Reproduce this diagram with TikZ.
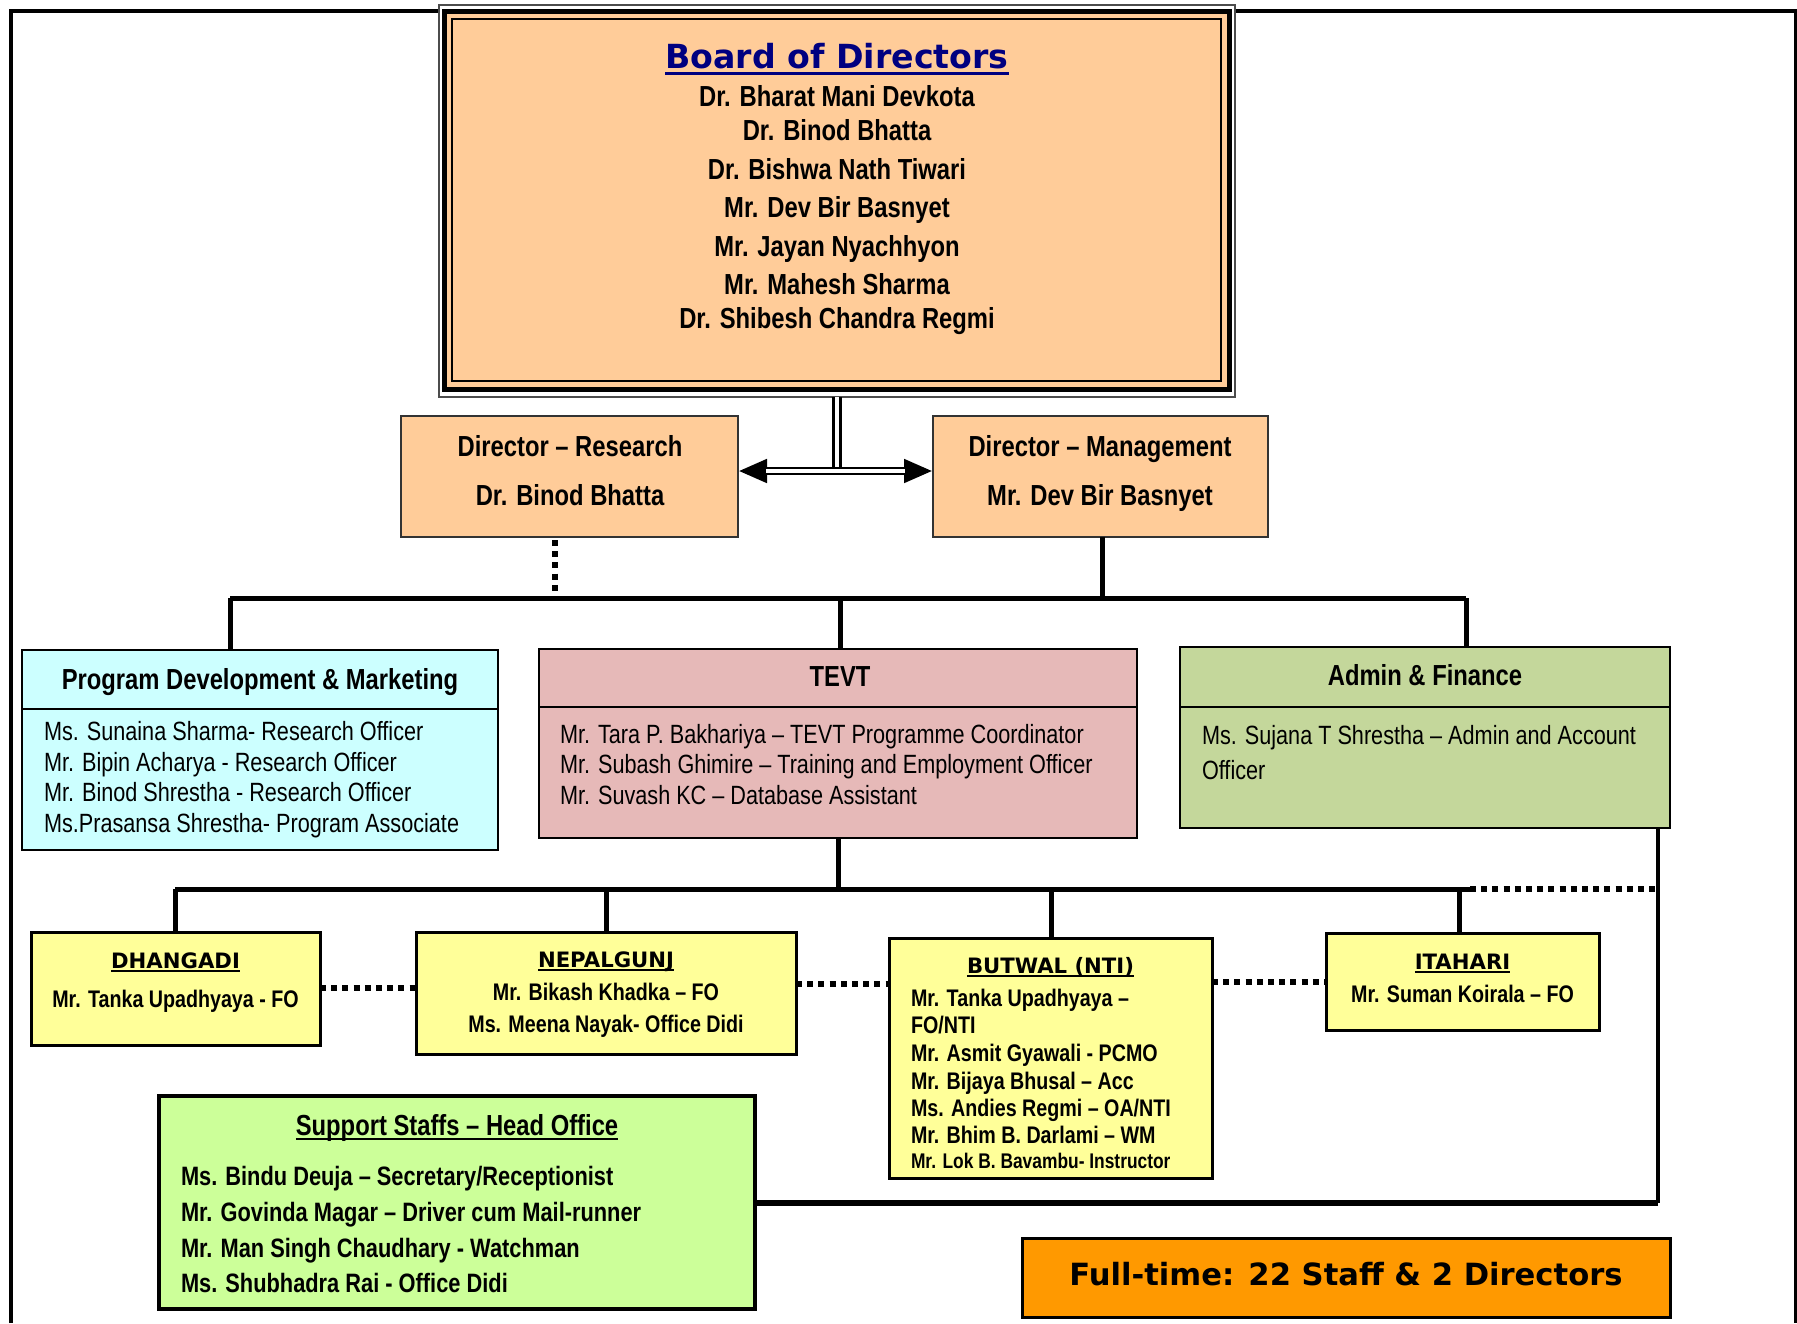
\documentclass[tikz,border=0pt]{standalone}
\usepackage{fontspec}
\setmainfont{Liberation Sans}
\newfontfamily\nar{Liberation Sans}[FakeStretch=0.82]
\newfontfamily\wid{DejaVu Sans}
\usetikzlibrary{fit,arrows.meta,calc}
\definecolor{peach}{HTML}{FFCC99}
\definecolor{cyanbox}{HTML}{CCFFFF}
\definecolor{tevtc}{HTML}{E6B9B8}
\definecolor{adminc}{HTML}{C4D79B}
\definecolor{yel}{HTML}{FFFF99}
\definecolor{supc}{HTML}{CCFF99}
\definecolor{orng}{HTML}{FF9900}
\definecolor{navy}{HTML}{000080}
\tikzset{
  box/.style={draw, inner sep=0pt, outer sep=0pt},
  txt/.style={inner sep=0pt, outer sep=0pt, anchor=base},
  ltxt/.style={inner sep=0pt, outer sep=0pt, anchor=base west},
  fB/.style={font=\nar\bfseries\fontsize{14.5}{17}\selectfont},
  fR/.style={font=\nar\fontsize{13.2}{16}\selectfont},
  fS/.style={font=\nar\bfseries\fontsize{13.3}{16}\selectfont},
  fb/.style={font=\nar\bfseries\fontsize{12}{14}\selectfont},
  fbs/.style={font=\nar\bfseries\fontsize{10.6}{13}\selectfont},
  fT/.style={font=\wid\bfseries\fontsize{10.6}{13}\selectfont},
  conn/.style={line width=2.5pt},
  dots/.style={line width=2.6pt, dash pattern=on 3pt off 2.6pt},
}
\begin{document}
\begin{tikzpicture}[x=0.5pt,y=-0.5pt]
\useasboundingbox (0,0) rectangle (1797,1323);
% outer frame
\draw[line width=2pt] (10.5,1323) -- (10.5,11) -- (1795.5,11) -- (1795.5,1323);

% Board of directors
\node[box, draw=black!70, line width=0.75pt, fill=white, fit={(439,5) (1235,397)}] (bod) {};
\draw[line width=2.5pt, fill=peach] ([xshift=2.75pt,yshift=-3pt]bod.north west) rectangle ([xshift=-2.75pt,yshift=3.75pt]bod.south east);
\draw[line width=1pt] ([xshift=6.5pt,yshift=-7pt]bod.north west) rectangle ([xshift=-7pt,yshift=8pt]bod.south east);
\node[txt, font=\wid\bfseries\fontsize{16.6}{20}\selectfont, text=navy] (bodt) at (837,68) {Board of Directors};
\draw[navy, line width=1.5pt] ([yshift=-2.6pt]bodt.base west) -- ([yshift=-2.6pt]bodt.base east);
\foreach \t/\y [count=\i] in {Dr. Bharat Mani Devkota/106, Dr. Binod Bhatta/140, Dr. Bishwa Nath Tiwari/179, Mr. Dev Bir Basnyet/217, Mr. Jayan Nyachhyon/256, Mr. Mahesh Sharma/294, Dr. Shibesh Chandra Regmi/328}
  \node[txt, fB] (bodn\i) at (837,\y) {\t};

% Directors
\node[box, fill=peach, draw=black!80, line width=1pt, fit={(401,416) (738,537)}] (dr) {};
\node[txt, fB] (drt1) at (570,456) {Director – Research};
\node[txt, fB] (drt2) at (570,505) {Dr. Binod Bhatta};
\node[box, fill=peach, draw=black!80, line width=1pt, fit={(933,416) (1268,537)}] (dm) {};
\node[txt, fB] (dmt1) at (1100,456) {Director – Management};
\node[txt, fB] (dmt2) at (1100,505) {Mr. Dev Bir Basnyet};

% board to directors
\coordinate (arr) at (837,471);
\coordinate (arrtop) at (837,468);
\draw[line width=1.6pt, double=white, double distance=2pt] (bod.south) -- (bod.south |- arrtop);
\draw[line width=4.3pt, {Triangle[length=14.5pt,width=11pt]}-{Triangle[length=14.5pt,width=11pt]}] (dr.east |- arr) -- (dm.west |- arr);
\draw[white, line width=2.1pt, shorten <=14pt, shorten >=14pt] (dr.east |- arr) -- (dm.west |- arr);

% Program Development & Marketing
\node[box, fill=cyanbox, line width=1.1pt, fit={(22,650) (498,850)}] (pdm) {};
\coordinate (pdmdiv) at (22,709);
\draw[line width=1.1pt] (pdm.west |- pdmdiv) -- (pdm.east |- pdmdiv);
\node[txt, fB] (pdmh) at (260,689) {Program Development \& Marketing};
\foreach \t/\y [count=\i] in {Ms. Sunaina Sharma- Research Officer/740.5, Mr. Bipin Acharya - Research Officer/771, Mr. Binod Shrestha - Research Officer/801.5, Ms.Prasansa Shrestha- Program Associate/832}
  \node[ltxt, fR] (pdmb\i) at (44,\y) {\t};

% TEVT
\node[box, fill=tevtc, line width=1.1pt, fit={(539,649) (1137,838)}] (tevt) {};
\coordinate (tevtdiv) at (539,707);
\draw[line width=1.1pt] (tevt.west |- tevtdiv) -- (tevt.east |- tevtdiv);
\node[txt, fB] (tevth) at (840,686) {TEVT};
\foreach \t/\y [count=\i] in {Mr. Tara P. Bakhariya – TEVT Programme Coordinator/743, Mr. Subash Ghimire – Training and Employment Officer/773.5, Mr. Suvash KC – Database Assistant/804}
  \node[ltxt, fR] (tevtb\i) at (560,\y) {\t};

% Admin & Finance
\node[box, fill=adminc, line width=1.1pt, fit={(1180,647) (1670,828)}] (adm) {};
\coordinate (admdiv) at (1180,707);
\draw[line width=1.1pt] (adm.west |- admdiv) -- (adm.east |- admdiv);
\node[txt, fB] (admh) at (1425,685) {Admin \& Finance};
\node[ltxt, fR] (admb1) at (1202,744) {Ms. Sujana T Shrestha – Admin and Account};
\node[ltxt, fR] (admb2) at (1202,779) {Officer};

% bus from directors
\coordinate (busL) at (230,598);
\coordinate (busR) at (1466,598);
\coordinate (tevx) at (840,598);
\coordinate (mgx) at (1102,598);
\coordinate (rsd) at (555,596);
\draw[conn] (busL) -- (busR);
\draw[conn] (dm.south -| mgx) -- (mgx);
\draw[dots] ([yshift=-1.5pt]dr.south -| rsd) -- (rsd);
\draw[conn] (busL) -- (busL |- pdm.north);
\draw[conn] (tevx) -- (tevx |- tevt.north);
\draw[conn] (busR) -- (busR |- adm.north);

% Branch offices
\node[box, fill=yel, line width=1.5pt, fit={(31,932) (320,1045)}] (dh) {};
\node[txt, fT] (dht) at (175.5,968) {DHANGADI};
\draw[line width=1.1pt] ([yshift=-1.4pt]dht.base west) -- ([yshift=-1.4pt]dht.base east);
\node[txt, fb] (dhb) at (175.5,1007) {Mr. Tanka Upadhyaya - FO};

\node[box, fill=yel, line width=1.5pt, fit={(416,932) (796,1054)}] (np) {};
\node[txt, fT] (npt) at (606,967) {NEPALGUNJ};
\draw[line width=1.1pt] ([yshift=-1.4pt]npt.base west) -- ([yshift=-1.4pt]npt.base east);
\node[txt, fb] (npb1) at (606,1000) {Mr. Bikash Khadka – FO};
\node[txt, fb] (npb2) at (606,1032) {Ms. Meena Nayak- Office Didi};

\node[box, fill=yel, line width=1.5pt, fit={(889,938) (1212,1178)}] (bt) {};
\node[txt, fT] (btt) at (1050.5,973) {BUTWAL (NTI)};
\draw[line width=1.1pt] ([yshift=-1.4pt]btt.base west) -- ([yshift=-1.4pt]btt.base east);
\foreach \t/\y [count=\i] in {{Mr. Tanka Upadhyaya –}/1006, {FO/NTI}/1033, {Mr. Asmit Gyawali - PCMO}/1061, {Mr. Bijaya Bhusal – Acc}/1089, {Ms. Andies Regmi – OA/NTI}/1116, {Mr. Bhim B. Darlami – WM}/1143}
  \node[ltxt, fb] (btb\i) at (911,\y) {\t};
\node[ltxt, fbs] (btb7) at (911,1168) {Mr. Lok B. Bavambu- Instructor};

\node[box, fill=yel, line width=1.5pt, fit={(1326,933) (1599,1030)}] (it) {};
\node[txt, fT] (itt) at (1462.5,969) {ITAHARI};
\draw[line width=1.1pt] ([yshift=-1.4pt]itt.base west) -- ([yshift=-1.4pt]itt.base east);
\node[txt, fb] (itb) at (1462.5,1002) {Mr. Suman Koirala – FO};

% Support staffs
\node[box, fill=supc, line width=2pt, fit={(159,1096) (755,1309)}] (sup) {};
\node[txt, fB] (supt) at (457,1135) {Support Staffs – Head Office};
\draw[line width=1.4pt] ([yshift=-2pt]supt.base west) -- ([yshift=-2pt]supt.base east);
\foreach \t/\y [count=\i] in {{Ms. Bindu Deuja – Secretary/Receptionist}/1185.5, {Mr. Govinda Magar – Driver cum Mail-runner}/1221, {Mr. Man Singh Chaudhary - Watchman}/1257, {Ms. Shubhadra Rai - Office Didi}/1292}
  \node[ltxt, fS] (supb\i) at (181,\y) {\t};

% Full-time
\node[box, fill=orng, line width=1.5pt, fit={(1022,1238) (1670,1317)}] (ft) {};
\node[txt, font=\wid\bfseries\fontsize{15.3}{18}\selectfont] (ftt) at (1346,1285) {Full-time: 22 Staff \& 2 Directors};

% branch bus
\coordinate (bbL) at (175,889);
\coordinate (bbR) at (1470,889);
\coordinate (bbE) at (1656,889);
\coordinate (npx) at (606,889);
\coordinate (btx) at (1051,889);
\coordinate (itx) at (1459,889);
\draw[conn] (tevt.south) -- (tevt.south |- bbL);
\draw[conn] (bbL) -- (bbR);
\draw[dots] (bbR) -- (bbE);
\draw[conn] (bbL) -- (bbL |- dh.north);
\draw[conn] (npx) -- (npx |- np.north);
\draw[conn] (btx) -- (btx |- bt.north);
\draw[conn] (itx) -- (itx |- it.north);

% dotted links between branches
\coordinate (d1) at (0,988);
\coordinate (d2) at (0,984);
\coordinate (d3) at (0,982);
\draw[dots] (dh.east |- d1) -- (np.west |- d1);
\draw[dots] (np.east |- d2) -- (bt.west |- d2);
\draw[dots] (bt.east |- d3) -- (it.west |- d3);

% admin to support staffs
\coordinate (avx) at (1658,1203);
\draw[line width=2.25pt] (adm.south -| avx) -- (avx);
\draw[line width=3pt] (avx) -- (sup.east |- avx);
\end{tikzpicture}
\end{document}
